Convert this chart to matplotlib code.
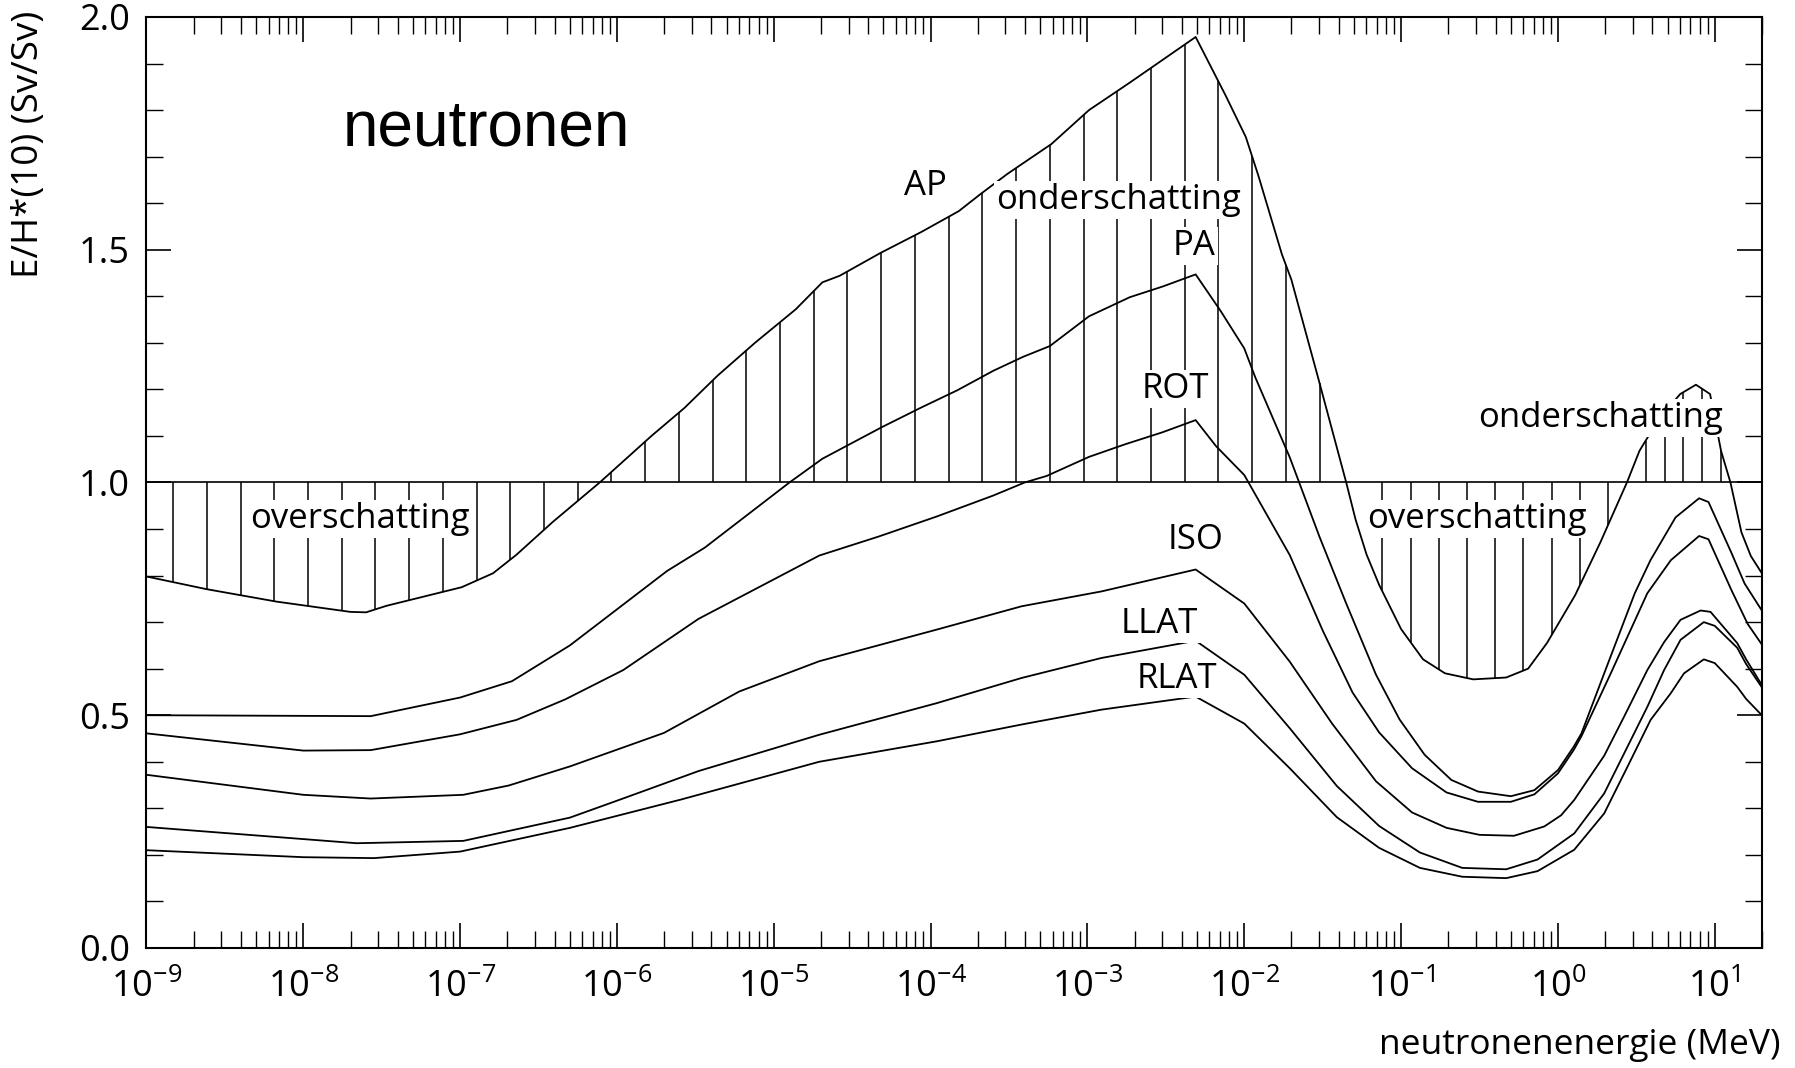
import numpy as np
import matplotlib
matplotlib.use("Agg")
import matplotlib.pyplot as plt
from matplotlib.ticker import FixedLocator, FixedFormatter, NullFormatter

plt.rcParams['font.family'] = ['Open Sans', 'DejaVu Sans']
plt.rcParams['mathtext.default'] = 'regular'

# ---- data: log10(neutron energy / MeV) and E/H*(10) (Sv/Sv) ----
AP_logE = [-9.0, -8.62, -8.17, -7.70, -7.60, -7.47, -6.99, -6.79, -6.64, -6.41, -6.11,
           -5.78, -5.57, -5.36, -5.12, -4.86, -4.69, -4.58, -4.32, -4.06, -3.82, -3.68,
           -3.51, -3.23, -2.99, -2.73, -2.52, -2.31, -2.12, -1.99, -1.91, -1.76, -1.70,
           -1.53, -1.35, -1.29, -1.22, -1.14, -1.00, -0.86, -0.72, -0.54, -0.33, -0.19,
           -0.07, 0.11, 0.27, 0.44, 0.52, 0.65, 0.78, 0.88, 0.97, 1.04, 1.10, 1.17, 1.23, 1.30]
AP_val = [0.798, 0.771, 0.744, 0.722, 0.721, 0.735, 0.775, 0.805, 0.845, 0.915, 1.0,
          1.10, 1.16, 1.229, 1.30, 1.372, 1.43, 1.444, 1.493, 1.538, 1.583, 1.62,
          1.663, 1.727, 1.80, 1.859, 1.908, 1.957, 1.832, 1.742, 1.659, 1.49, 1.436,
          1.226, 1.0, 0.92, 0.845, 0.78, 0.685, 0.62, 0.59, 0.577, 0.581, 0.60,
          0.655, 0.758, 0.871, 1.0, 1.068, 1.14, 1.19, 1.21, 1.19, 1.068, 1.0, 0.893, 0.842, 0.805]

PA_logE = [-9.0, -7.57, -7.0, -6.67, -6.30, -5.68, -5.44, -4.90, -4.69, -4.31, -4.06,
           -3.83, -3.60, -3.41, -3.24, -2.99, -2.73, -2.52, -2.31, -2.15, -2.0, -1.93,
           -1.71, -1.52, -1.35, -1.16, -1.01, -0.85, -0.68, -0.51, -0.30, -0.15, 0.0,
           0.10, 0.15, 0.295, 0.49, 0.59, 0.75, 0.90, 0.96, 1.106, 1.19, 1.30]
PA_val = [0.50, 0.498, 0.538, 0.573, 0.65, 0.81, 0.86, 1.0, 1.051, 1.119, 1.161,
          1.198, 1.24, 1.27, 1.293, 1.357, 1.398, 1.421, 1.447, 1.368, 1.288, 1.226,
          1.054, 0.883, 0.74, 0.587, 0.491, 0.415, 0.361, 0.336, 0.326, 0.339, 0.382,
          0.432, 0.461, 0.59, 0.762, 0.833, 0.925, 0.966, 0.958, 0.849, 0.783, 0.725]

ROT_logE = [-9.0, -8.0, -7.57, -7.0, -6.64, -6.33, -5.96, -5.48, -4.71, -4.33, -3.96,
            -3.60, -3.40, -3.26, -2.99, -2.76, -2.52, -2.31, -2.18, -2.0, -1.71, -1.50,
            -1.31, -1.14, -0.93, -0.71, -0.51, -0.30, -0.15, 0.0, 0.10, 0.15, 0.337,
            0.57, 0.72, 0.90, 0.96, 1.106, 1.21, 1.30]
ROT_val = [0.461, 0.424, 0.425, 0.459, 0.49, 0.534, 0.597, 0.707, 0.843, 0.884, 0.927,
           0.972, 1.0, 1.014, 1.055, 1.082, 1.108, 1.134, 1.078, 1.016, 0.844, 0.682,
           0.549, 0.463, 0.386, 0.334, 0.314, 0.314, 0.33, 0.375, 0.425, 0.455, 0.59,
           0.762, 0.833, 0.885, 0.878, 0.769, 0.696, 0.652]

ISO_logE = [-9.0, -8.0, -7.57, -6.98, -6.69, -6.30, -5.70, -5.22, -4.71, -3.96, -3.42,
            -2.91, -2.31, -2.0, -1.71, -1.44, -1.16, -0.93, -0.71, -0.50, -0.28, -0.087,
            0.02, 0.104, 0.295, 0.422, 0.57, 0.677, 0.782, 0.91, 0.973, 1.143, 1.20, 1.30]
ISO_val = [0.372, 0.329, 0.321, 0.329, 0.349, 0.39, 0.462, 0.551, 0.616, 0.684, 0.734,
           0.766, 0.813, 0.74, 0.615, 0.482, 0.358, 0.291, 0.258, 0.243, 0.241, 0.261,
           0.285, 0.318, 0.413, 0.497, 0.597, 0.657, 0.705, 0.725, 0.722, 0.655, 0.62, 0.565]

LLAT_logE = [-9.0, -7.66, -6.98, -6.30, -5.97, -5.48, -4.71, -3.96, -3.42, -2.91, -2.31,
             -2.0, -1.71, -1.41, -1.14, -0.88, -0.61, -0.33, -0.13, 0.104, 0.295, 0.443,
             0.57, 0.677, 0.782, 0.93, 1.0, 1.143, 1.20, 1.30]
LLAT_val = [0.26, 0.225, 0.23, 0.28, 0.32, 0.38, 0.458, 0.526, 0.58, 0.623, 0.66,
            0.587, 0.472, 0.348, 0.262, 0.205, 0.172, 0.169, 0.19, 0.246, 0.332, 0.432,
            0.518, 0.597, 0.662, 0.700, 0.692, 0.645, 0.61, 0.56]

RLAT_logE = [-9.0, -8.0, -7.55, -7.0, -6.30, -5.59, -4.71, -3.96, -3.42, -2.91, -2.31,
             -2.0, -1.71, -1.41, -1.14, -0.88, -0.61, -0.33, -0.13, 0.104, 0.295, 0.443,
             0.591, 0.719, 0.804, 0.93, 1.0, 1.143, 1.20, 1.30]
RLAT_val = [0.21, 0.195, 0.193, 0.207, 0.258, 0.319, 0.40, 0.444, 0.48, 0.512, 0.54,
            0.482, 0.386, 0.281, 0.215, 0.172, 0.153, 0.15, 0.165, 0.211, 0.289, 0.389,
            0.49, 0.547, 0.59, 0.62, 0.612, 0.561, 0.535, 0.50]

x_decades = list(range(-9, 2))
y_ticks = [0.0, 0.5, 1.0, 1.5, 2.0]
y_ticklabels = ['0.0', '0.5', '1.0', '1.5', '2.0']

# ---- figure ----
fig = plt.figure(figsize=(17.95, 10.68), dpi=100)
ax = fig.add_axes([0.0816, 0.1124, 0.9000, 0.8717])

curves = [(AP_logE, AP_val), (PA_logE, PA_val), (ROT_logE, ROT_val),
          (ISO_logE, ISO_val), (LLAT_logE, LLAT_val), (RLAT_logE, RLAT_val)]
for lx, v in curves:
    ax.plot(10.0 ** np.asarray(lx), v, color='black', lw=1.3, zorder=3)

ax.axhline(1.0, color='black', lw=1.2, zorder=2)

# vertical hatching between AP and 1.0
hatch_logE = np.concatenate([np.arange(-8.83, -1.38, 0.215),
                             np.arange(-1.12, 0.40, 0.18),
                             np.arange(0.56, 1.10, 0.12)])
ap_at = np.interp(hatch_logE, AP_logE, AP_val)
m = np.abs(ap_at - 1.0) > 0.015
ax.vlines(10.0 ** hatch_logE[m], np.minimum(ap_at, 1.0)[m], np.maximum(ap_at, 1.0)[m],
          colors='black', lw=1.1, zorder=2)

ax.set_xscale('log')
ax.set_xlim(1e-9, 20)
ax.set_ylim(0, 2.0)

ax.xaxis.set_major_locator(FixedLocator([10.0 ** d for d in x_decades]))
ax.xaxis.set_major_formatter(FixedFormatter(['$10^{%d}$' % d for d in x_decades]))
ax.xaxis.set_minor_locator(FixedLocator([k * 10.0 ** d for d in x_decades for k in range(2, 10)]))
ax.xaxis.set_minor_formatter(NullFormatter())
ax.yaxis.set_major_locator(FixedLocator(y_ticks))
ax.yaxis.set_major_formatter(FixedFormatter(y_ticklabels))
ax.yaxis.set_minor_locator(FixedLocator(np.round(np.arange(0.1, 2.0, 0.1), 2)))

ax.tick_params(which='both', direction='in', top=True, right=True, colors='black')
ax.tick_params(which='major', length=18, width=1.2, labelsize=26)
ax.tick_params(which='minor', length=12, width=1.0)
ax.tick_params(axis='x', which='major', pad=16)
ax.tick_params(axis='y', which='major', pad=12)
for s in ax.spines.values():
    s.set_linewidth(1.5)

lab = dict(fontsize=25, color='black', zorder=5, ha='center', va='center',
           bbox=dict(facecolor='white', edgecolor='none', pad=1.5))

def put(text, lx, y, **kw):
    d = dict(lab)
    d.update(kw)
    ax.text(10.0 ** lx, y, text, **d)

put('neutronen', -7.75, 1.76, fontsize=46, ha='left', family=['Liberation Sans', 'DejaVu Sans'])
put('AP', -4.03, 1.636)
put('onderschatting', -2.80, 1.606)
put('PA', -2.32, 1.508)
put('ROT', -2.44, 1.20)
put('overschatting', -7.64, 0.922)
put('ISO', -2.31, 0.876)
put('LLAT', -2.54, 0.696)
put('RLAT', -2.43, 0.578)
put('overschatting', -0.516, 0.922)
put('onderschatting', 0.27, 1.139)

fig.text(0.016, 0.990, 'E/H*(10) (Sv/Sv)', rotation=90, ha='center', va='top', fontsize=26.5)
fig.text(0.992, 0.022, 'neutronenenergie (MeV)', ha='right', va='center', fontsize=25.5)

fig.savefig('out.png', dpi=100, facecolor='white')
